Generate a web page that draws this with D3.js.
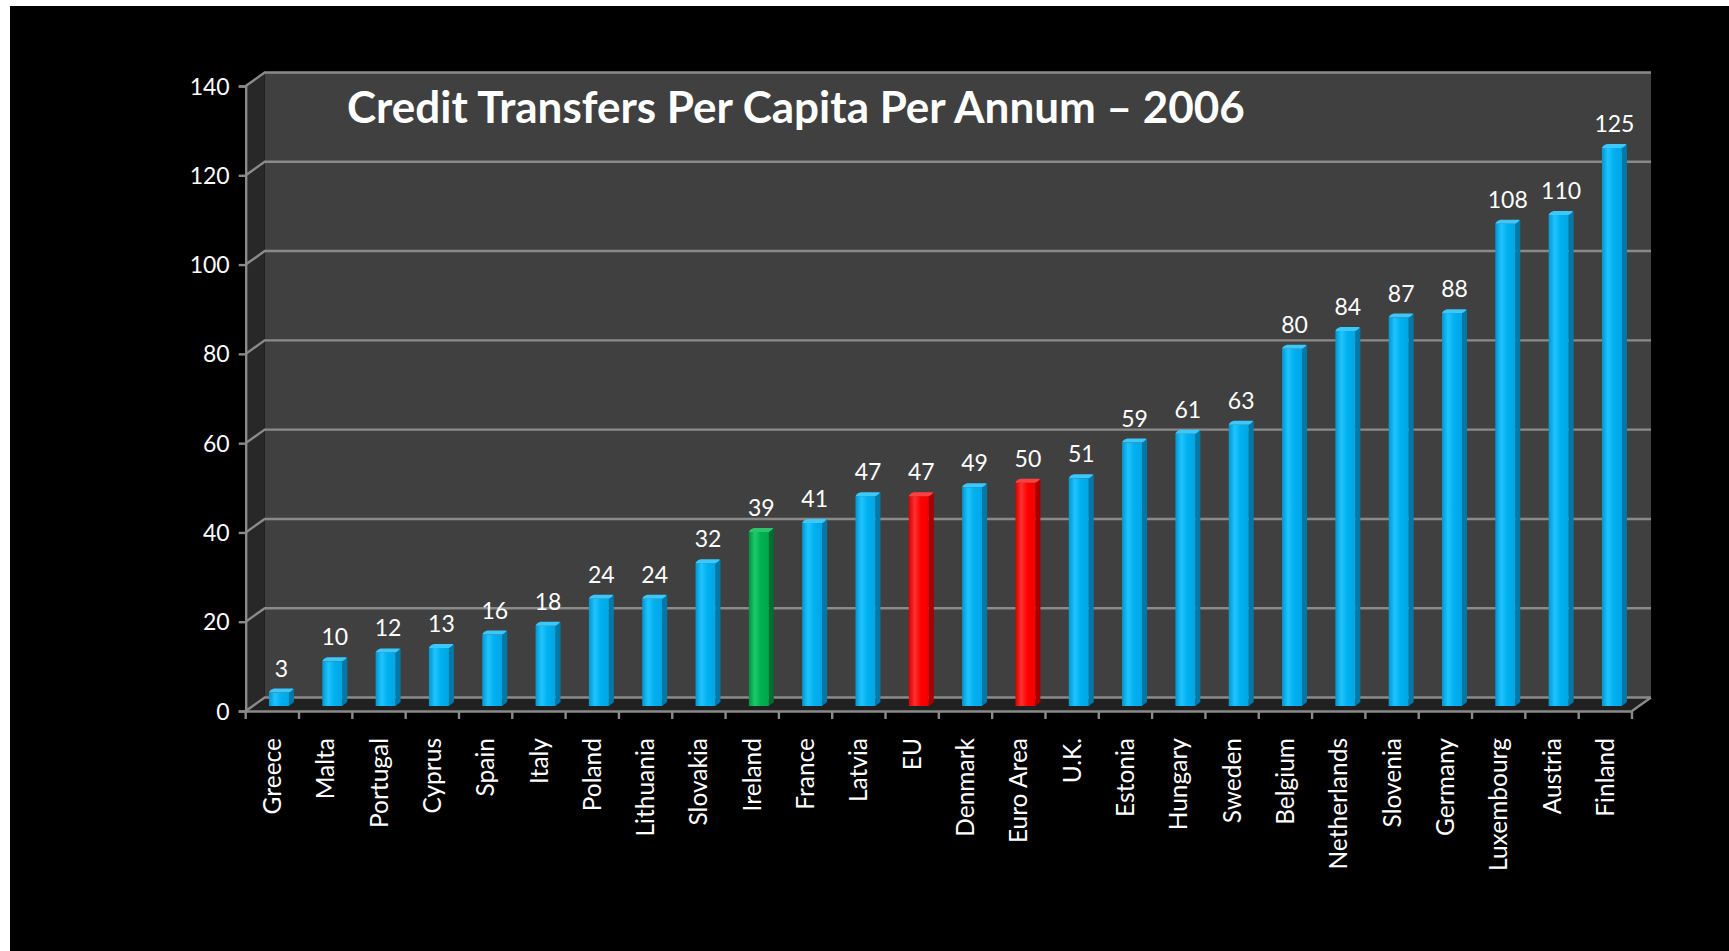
<!DOCTYPE html>
<html>
<head>
<meta charset="utf-8">
<script src="https://cdn.jsdelivr.net/npm/d3@7"></script>
<style>
  html, body { margin: 0; padding: 0; background: #fff; }
  svg { display: block; }
</style>
</head>
<body>
<svg id="chart" width="1729" height="951"></svg>
<script>
// Credit transfers per capita per annum, 2006
const categories = ["Greece","Malta","Portugal","Cyprus","Spain","Italy","Poland","Lithuania","Slovakia","Ireland","France","Latvia","EU","Denmark","Euro Area","U.K.","Estonia","Hungary","Sweden","Belgium","Netherlands","Slovenia","Germany","Luxembourg","Austria","Finland"];
const values = [3,10,12,13,16,18,24,24,32,39,41,47,47,49,50,51,59,61,63,80,84,87,88,108,110,125];
const highlight = { "Ireland": "green", "EU": "red", "Euro Area": "red" };
const yTicks = [0,20,40,60,80,100,120,140];
const title = "Credit Transfers Per Capita Per Annum \u2013 2006";

const svg = d3.select("#chart");
const font = "Lato, 'Open Sans', sans-serif";

// page: black canvas with a thin white margin top/left
svg.append("rect").attr("x",0).attr("y",0).attr("width",1729).attr("height",951).attr("fill","#fff");
svg.append("rect").attr("x",10).attr("y",6).attr("width",1719).attr("height",945).attr("fill","#000");

// front plane scales; the back wall is offset by depth (dx, dy)
const x = d3.scaleBand().domain(categories).range([245.7, 1632]).padding(0);
const y = d3.scaleLinear().domain([0, 140]).range([711, 86]);
const DX = 19, DY = -13.5;

const x0 = x.range()[0], x1 = x.range()[1];

// back wall
svg.append("rect")
  .attr("x", x0 + DX).attr("y", y(140) + DY)
  .attr("width", x1 - x0).attr("height", y(0) - y(140))
  .attr("fill", "#404040");

// side wall
svg.append("polygon")
  .attr("points", [[x0, y(140)], [x0 + DX, y(140) + DY], [x0 + DX, y(0) + DY], [x0, y(0)]].join(" "))
  .attr("fill", "#282828");

// floor
svg.append("polygon")
  .attr("points", [[x0, y(0)], [x1, y(0)], [x1 + DX, y(0) + DY], [x0 + DX, y(0) + DY]].join(" "))
  .attr("fill", "#212121");

// gridlines across side wall and back wall
const grid = svg.append("g").attr("stroke", "#8a8a8a").attr("stroke-width", 2.4).attr("fill", "none");
yTicks.forEach(t => {
  grid.append("path").attr("d", d3.line()([[x0, y(t)], [x0 + DX, y(t) + DY], [x1 + DX, y(t) + DY]]));
});
// floor right edge
grid.append("path").attr("d", d3.line()([[x1, y(0)], [x1 + DX, y(0) + DY]]));

// value axis
const yAxis = d3.axisLeft(y).tickValues(yTicks).tickSize(7).tickPadding(9);
const gy = svg.append("g").attr("transform", `translate(${x0},0)`).call(yAxis);
gy.select(".domain").attr("stroke", "#8a8a8a").attr("stroke-width", 2.4);
gy.selectAll(".tick line").attr("stroke", "#8a8a8a").attr("stroke-width", 2.4);
gy.selectAll(".tick text").attr("fill", "#fff").attr("font-family", font).attr("font-size", 23).attr("dy", "0.35em");

// category axis
const xAxis = d3.axisBottom(x).tickSize(0).tickFormat(d => d);
const gx = svg.append("g").attr("transform", `translate(0,${y(0)})`).call(xAxis);
gx.select(".domain").attr("stroke", "#8a8a8a").attr("stroke-width", 2.4);
gx.selectAll(".tick text")
  .attr("fill", "#fff").attr("font-family", font).attr("font-size", 24.5)
  .attr("text-anchor", "end")
  .attr("transform", "rotate(-90)")
  .attr("x", -27).attr("y", 0).attr("dy", "0.35em");
// tick marks at band boundaries
const bounds = categories.map(c => x(c)).concat([x1]);
gx.selectAll(".bound").data(bounds).join("line")
  .attr("class", "bound")
  .attr("x1", d => d).attr("x2", d => d).attr("y1", 0).attr("y2", 8)
  .attr("stroke", "#8a8a8a").attr("stroke-width", 2.4);

// bar gradients
const defs = svg.append("defs");
const palettes = {
  blue:  { front: ["#0096cf", "#20c4ff", "#00b0f0", "#00a6e4"], side: "#0079a8", top: "#3cc8fa" },
  green: { front: ["#00903f", "#1ccc6a", "#00b050", "#00a84b"], side: "#006d31", top: "#2cc46c" },
  red:   { front: ["#d80000", "#ff3030", "#ff0000", "#f00000"], side: "#a80000", top: "#ff4040" }
};
Object.entries(palettes).forEach(([k, p]) => {
  const g = defs.append("linearGradient").attr("id", "g-" + k).attr("x1", 0).attr("x2", 1).attr("y1", 0).attr("y2", 0);
  [0, 0.3, 0.6, 1].forEach((o, i) => g.append("stop").attr("offset", o).attr("stop-color", p.front[i]));
});

// bars sit slightly back from the front plane
const BOX = 6.6, BOY = -5;       // front face offset
const BW = 20;                     // front face width
const SDX = 5, SDY = -4;           // bar depth
const data = categories.map((c, i) => ({ c, v: values[i], col: highlight[c] || "blue" }));

const bars = svg.append("g").selectAll("g").data(data).join("g");
bars.each(function(d) {
  const g = d3.select(this);
  const p = palettes[d.col];
  const left = x(d.c) + (x.bandwidth() - BW) / 2 + BOX;
  const right = left + BW;
  const top = y(d.v) + BOY;
  const bottom = y(0) + BOY;
  // side face
  g.append("polygon")
    .attr("points", [[right, top], [right + SDX, top + SDY], [right + SDX, bottom + SDY], [right, bottom]].join(" "))
    .attr("fill", p.side);
  // front face
  g.append("rect").attr("x", left).attr("y", top).attr("width", BW).attr("height", bottom - top)
    .attr("fill", `url(#g-${d.col})`);
  // top cap with soft rounded edge
  g.append("path")
    .attr("d", `M${left},${top} Q${left + 1},${top - 3} ${left + SDX},${top + SDY} L${right + SDX - 1},${top + SDY} Q${right + SDX},${top + SDY + 1} ${right},${top} Z`)
    .attr("fill", p.top);
  // data label
  g.append("text")
    .attr("x", left + (BW + SDX) / 2).attr("y", top - 16)
    .attr("text-anchor", "middle")
    .attr("fill", "#fff").attr("font-family", font).attr("font-size", 23)
    .text(d.v);
});

// title
svg.append("text")
  .attr("x", 347).attr("y", 123)
  .attr("fill", "#fff").attr("font-family", font).attr("font-weight", "bold").attr("font-size", 44)
  .text(title);
</script>
</body>
</html>
